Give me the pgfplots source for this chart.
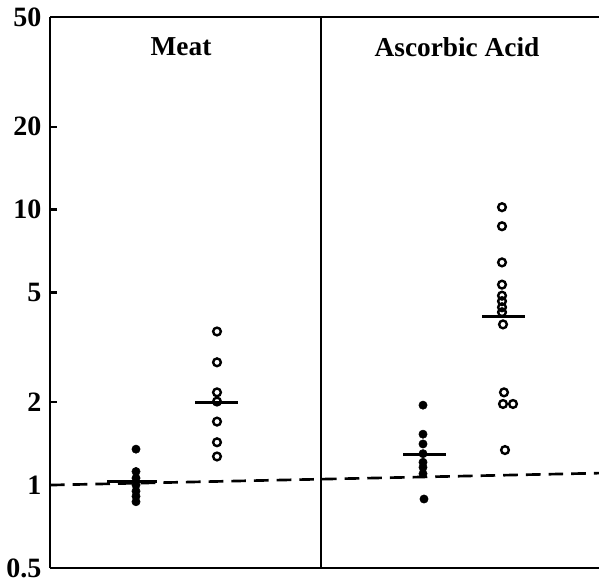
\documentclass[border=0pt]{standalone}
\usepackage{fontspec}
\setmainfont{Liberation Serif}
\usepackage{pgfplots}
\pgfplotsset{compat=1.18}
\begin{document}
\begin{tikzpicture}
\path[use as bounding box] (-37.5pt,-13.5pt) rectangle (411.75pt,426pt);
\begin{axis}[
  at={(0,0)}, anchor=south west,
  scale only axis, width=411.75pt, height=413.25pt,
  ymode=log, ymin=0.5, ymax=50, xmin=0, xmax=5.49,
  axis x line=box, axis y line=left,
  axis line style={-, line width=2pt, black},
  xtick=\empty,
  ytick={0.5,1,2,5,10,20,50}, yticklabels={0.5,1,2,5,10,20,50},
  minor ytick={},
  tick align=inside, major tick length=5pt,
  ytick style={line width=1.6pt, black},
  yticklabel style={font=\bfseries\fontsize{21}{25}\selectfont, /pgf/number format/assume math mode=true},
  yticklabel shift=3pt,
  clip=false,
]
% reference line at 1 (scan slightly tilted)
\addplot[black, line width=2pt, dash pattern=on 11pt off 6pt] coordinates {(0,1) (5.49,1.105)};
% panel divider
\addplot[black, line width=1.7pt] coordinates {(2.71,0.5) (2.71,50)};
% Meat: filled
\addplot[only marks, mark=*, mark size=3.1pt, black] coordinates {
 (0.86,1.35) (0.86,1.12) (0.86,1.06) (0.86,1.0) (0.86,0.95) (0.86,0.91) (0.86,0.87)};
% Meat: open
\addplot[only marks, mark=o, mark size=2.9pt, black, mark options={line width=1.8pt}] coordinates {
 (1.67,3.61) (1.67,2.79) (1.67,2.17) (1.67,2.01) (1.67,1.70) (1.67,1.43) (1.67,1.27)};
% Ascorbic acid: filled
\addplot[only marks, mark=*, mark size=3.1pt, black] coordinates {
 (3.73,1.95) (3.73,1.53) (3.73,1.41) (3.73,1.30) (3.73,1.21) (3.73,1.16) (3.73,1.10) (3.74,0.89)};
% Ascorbic acid: open
\addplot[only marks, mark=o, mark size=2.9pt, black, mark options={line width=1.8pt}] coordinates {
 (4.52,10.2) (4.52,8.7) (4.52,6.43) (4.52,5.34) (4.52,4.87) (4.52,4.65) (4.52,4.42) (4.52,4.24) (4.53,3.83)
 (4.54,2.17) (4.53,1.97) (4.63,1.97) (4.55,1.34)};
% medians
\addplot[black, line width=2.4pt] coordinates {(0.57,1.03) (1.07,1.03)};
\addplot[black, line width=2.4pt] coordinates {(1.45,2.0) (1.88,2.0)};
\addplot[black, line width=2.4pt] coordinates {(3.53,1.29) (3.96,1.29)};
\addplot[black, line width=2.4pt] coordinates {(4.32,4.1) (4.75,4.1)};
% titles
\node[font=\bfseries\fontsize{20.5}{24}\selectfont] at (axis cs:1.31,38.9) {Meat};
\node[font=\bfseries\fontsize{20.5}{24}\selectfont] at (axis cs:4.07,38.9) {Ascorbic Acid};
\end{axis}
\end{tikzpicture}
\end{document}
